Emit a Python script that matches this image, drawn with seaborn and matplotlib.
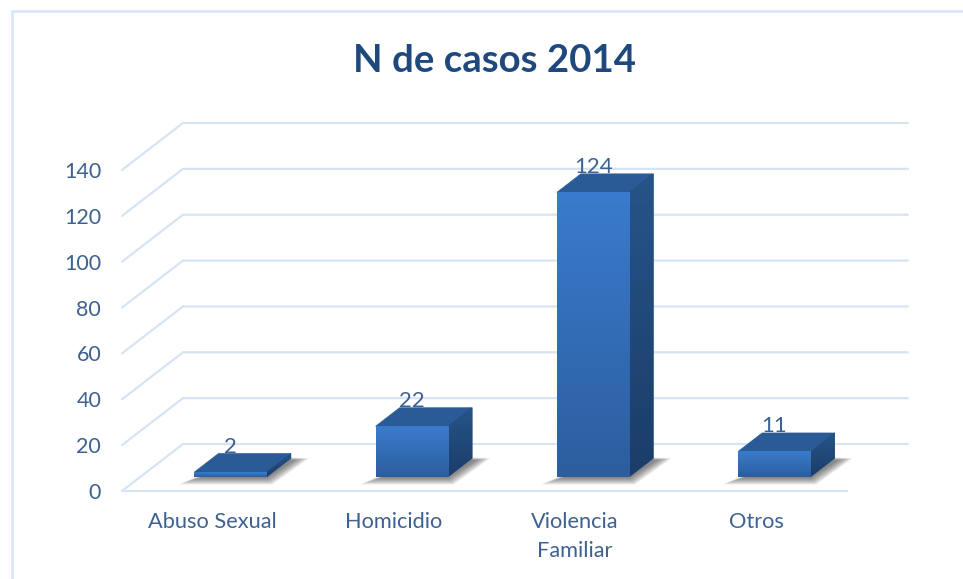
import numpy as np
import matplotlib
matplotlib.use("Agg")
import matplotlib.pyplot as plt
from matplotlib.colors import LinearSegmentedColormap
from matplotlib.lines import Line2D
from matplotlib.patches import Polygon
import seaborn as sns

categories = ["Abuso Sexual", "Homicidio", "Violencia\nFamiliar", "Otros"]
values = [2, 22, 124, 11]
y_ticks = [0, 20, 40, 60, 80, 100, 120, 140]
title = "N de casos 2014"

W, H = 963, 579
L, R, B, T = 122, 847, 491, 170   # front plane of the chart, in pixels
WALL_DX, WALL_DY = 61, 47         # depth of the floor
BAR_DX, BAR_DY = 18, 14.3         # bars stand this far back from the front plane
SIDE_DX, SIDE_DY = 24, 18.5       # depth of each bar
BAR_WIDTH = 0.40

GRID = "#D6E4F5"
TEXT = "#3D6190"

sns.set_theme(style="white")
plt.rcParams["font.family"] = ["Lato", "DejaVu Sans"]

fig = plt.figure(figsize=(W / 100, H / 100), dpi=100, facecolor="white")
ax = fig.add_axes([L / W, 1 - B / H, (R - L) / W, (B - T) / H])
ax.patch.set_alpha(0)

sns.barplot(x=categories, y=values, color="#3A7AC9", width=BAR_WIDTH, ax=ax,
            zorder=5, legend=False)
ax.set_xlim(-0.5, 3.5)
ax.set_ylim(0, 140)
ax.set_yticks(y_ticks)
sns.despine(ax=ax, left=True, bottom=True)
ax.tick_params(axis="y", length=0, pad=15, labelsize=15.5, labelcolor=TEXT)
ax.tick_params(axis="x", length=0, pad=15, labelsize=15.7, labelcolor=TEXT)
for lab in ax.get_xticklabels():
    lab.set_linespacing(1.55)
ax.set_xlabel("")
ax.set_ylabel("")

ux = 4 / (R - L)      # data units per pixel, x
uy = 140 / (B - T)    # data units per pixel, y

# grid: diagonal on the side wall, then along the back wall
for v in y_ticks:
    xs = [-0.5, -0.5 + WALL_DX * ux, 3.5 + WALL_DX * ux]
    ys = [v, v + WALL_DY * uy, v + WALL_DY * uy]
    ax.plot(xs, ys, color=GRID, lw=1.6, clip_on=False, zorder=1,
            solid_joinstyle="miter")
ax.plot([-0.5, 3.5], [0, 0], color=GRID, lw=1.6, clip_on=False, zorder=1)

front_map = LinearSegmentedColormap.from_list("front", ["#3A7BCD", "#2C5E9E"])
side_map = LinearSegmentedColormap.from_list("side", ["#265488", "#1B3D69"])


def grad(x0, x1, y0, y1, cmap, clip=None, z=5.0):
    im = ax.imshow(np.linspace(0, 1, 64).reshape(-1, 1), extent=[x0, x1, y0, y1],
                   cmap=cmap, aspect="auto", origin="upper", zorder=z,
                   interpolation="bilinear")
    im.set_clip_on(clip is not None)
    if clip is not None:
        im.set_clip_path(clip)
    return im


for bar, val in zip(list(ax.patches), values):
    x0 = bar.get_x() + BAR_DX * ux
    x1 = x0 + bar.get_width()
    y0 = BAR_DY * uy
    y1 = y0 + bar.get_height()
    sx, sy = SIDE_DX * ux, SIDE_DY * uy
    bar.set_visible(False)

    # soft floor shadow: stacked translucent shapes
    for k in range(7):
        g = (6 - k) * 2.3
        px = g * ux
        py = g * 0.45 * uy
        ax.add_patch(Polygon(
            [(x0 - 2 * ux - px, y0 - 1.5 * uy - py), (x1 + px * 0.4, y0 - 1.5 * uy - py),
             (x1 + sx + 4 * ux + px, y0 + sy - 2 * uy + py * 0.3), (x1, y0 + sy + py * 0.3)],
            closed=True, fc="#303030", ec="none", alpha=0.11, clip_on=False, zorder=2))

    # value label sits behind the top face
    ax.text(bar.get_x() + bar.get_width() / 2 + BAR_DX * ux, y1 + 25 * uy, str(val),
            ha="center", va="center", fontsize=16, color=TEXT, clip_on=False, zorder=3)

    # top face
    ax.add_patch(Polygon([(x0, y1), (x1, y1), (x1 + sx, y1 + sy), (x0 + sx, y1 + sy)],
                         closed=True, fc="#2A5B97", ec="#2A5B97", lw=0.5,
                         clip_on=False, zorder=5))
    # side face
    side = Polygon([(x1, y0), (x1 + sx, y0 + sy), (x1 + sx, y1 + sy), (x1, y1)],
                   closed=True, fc="#224B7E", ec="#224B7E", lw=0.5, clip_on=False, zorder=5)
    ax.add_patch(side)
    grad(x1, x1 + sx, y0, y1 + sy, side_map, clip=side, z=5.1)
    # front face
    grad(x0, x1, y0, y1, front_map, z=5.2)

ax.set_xlim(-0.5, 3.5)
ax.set_ylim(0, 140)

# chart frame, cut by the edge of the picture
fig.add_artist(Line2D([12 / W, 12 / W, 1], [0, 1 - 10.5 / H, 1 - 10.5 / H],
                      transform=fig.transFigure, color=GRID, lw=1.8,
                      solid_joinstyle="miter"))

fig.text(494 / W, 1 - 61 / H, title, ha="center", va="center", fontsize=27.6,
         fontweight="bold", color="#1F497D")

fig.savefig("out.png", dpi=100)
